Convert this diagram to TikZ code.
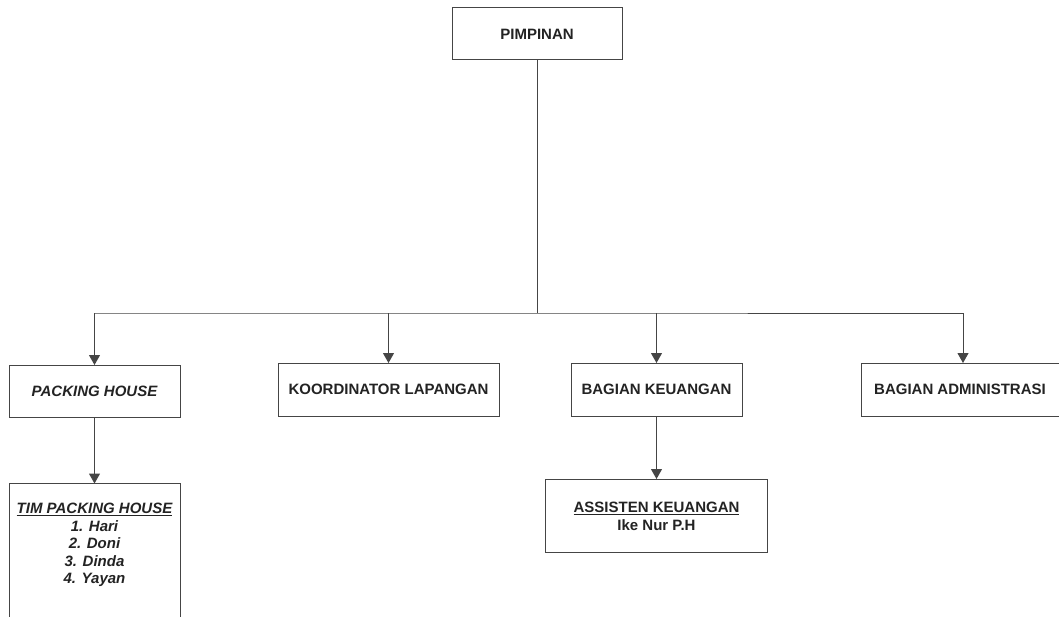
\documentclass[tikz,border=0pt]{standalone}
\usepackage{fontspec}
\setmainfont{Liberation Sans}
\usetikzlibrary{arrows.meta}
\definecolor{ink}{HTML}{232323}
\definecolor{rule}{HTML}{454545}
\tikzset{
  box/.style={draw=rule, line width=1pt, fill=white, minimum width=#1, minimum height=53pt,
    inner sep=0pt, text=ink, font=\fontsize{15}{17.5}\selectfont\bfseries},
  box/.default=171pt,
  label text/.style={inner sep=0pt, align=center, text=ink,
    font=\fontsize{15}{17.5}\selectfont\bfseries},
  link/.style={draw=rule, line width=1pt},
  arrowlink/.style={link, -{Triangle[width=11pt,length=10pt]}, shorten >=-0.5pt},
}
\begin{document}
\begin{tikzpicture}[x=1pt, y=-1pt]
\clip (0,0) rectangle (1059,617);
\fill[white] (0,0) rectangle (1059,617);

% top level
\node[box=170pt, minimum height=52pt] (pimp) at (537,34) {PIMPINAN};

% second level
\node[box=171pt, minimum height=52pt] (ph) at (94.5,391) {\itshape PACKING HOUSE};
\node[box=221pt] (kl) at (388.5,389.5) {KOORDINATOR LAPANGAN};
\node[box=171pt] (bk) at (656.5,389.5) {BAGIAN KEUANGAN};
\node[box=198pt] (ba) at (960,389.5) {BAGIAN ADMINISTRASI};

% third level
\node[box=171pt, minimum height=160pt, anchor=north] (tim) at (94.5,483) {};
\node[label text, anchor=north, font=\fontsize{15}{17.5}\selectfont\bfseries\itshape] (timtxt)
  at ([yshift=-20pt]tim.north) {\underline{TIM PACKING HOUSE}\\1. Hari\\2. Doni\\3. Dinda\\4. Yayan};

\node[box=222pt, minimum height=73pt] (ak) at (656.5,515.5) {};
\node[label text] (aktxt) at ([yshift=-1pt]ak.center) {\underline{ASSISTEN KEUANGAN}\\Ike Nur P.H};

% connectors
\coordinate (bus) at (537,313);
\draw[link] (pimp.south) -- (bus);
\draw[link] (ph.north |- bus) -- (bus) -- ([xshift=3pt]ba.north |- bus);
\draw[arrowlink] (ph.north |- bus) -- (ph.north);
\draw[arrowlink] (kl.north |- bus) -- (kl.north);
\draw[arrowlink] (bk.north |- bus) -- (bk.north);
\draw[arrowlink] ([xshift=3pt]ba.north |- bus) -- ([xshift=3pt]ba.north);
\draw[arrowlink] (ph.south) -- (tim.north);
\draw[arrowlink] (bk.south) -- (ak.north);
\end{tikzpicture}
\end{document}
